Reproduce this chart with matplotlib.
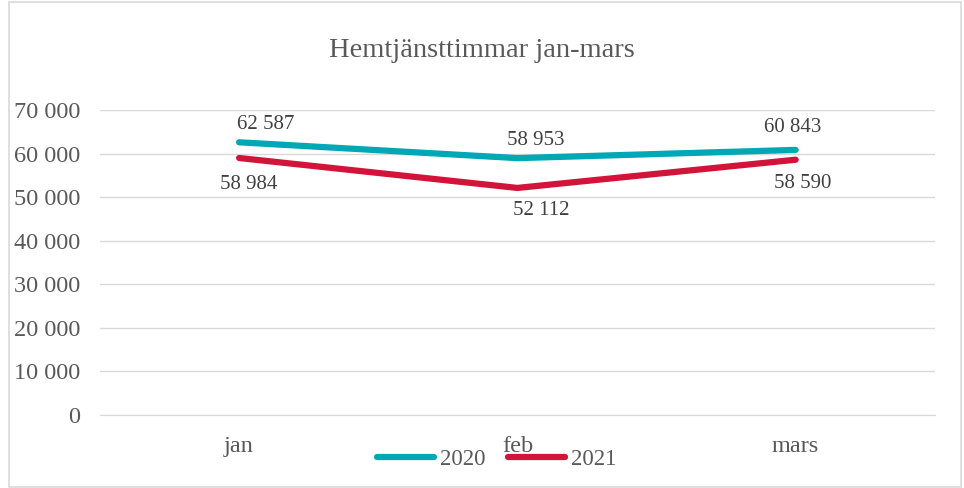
import matplotlib.pyplot as plt
from matplotlib.patches import Rectangle
from matplotlib.ticker import FuncFormatter

months = ['jan', 'feb', 'mars']
hours_2020 = [62587, 58953, 60843]
hours_2021 = [58984, 52112, 58590]

plt.rcParams['font.family'] = ['Liberation Serif', 'DejaVu Serif']
text_color = '#595959'
teal = '#00A8B5'
red = '#D2143A'

fig = plt.figure(figsize=(9.64, 4.88), dpi=100)
ax = fig.add_axes([0.1037, 0.1496, 0.866, 0.625])

x = range(len(months))
ax.plot(x, hours_2020, color=teal, linewidth=4.5, solid_capstyle='round', label='2020')
ax.plot(x, hours_2021, color=red, linewidth=4.5, solid_capstyle='round', label='2021')

def fmt(v):
    return f'{int(v):,}'.replace(',', ' ')

# data labels, offsets in points
offs_2020 = [(19, 13), (13, 13), (-2, 16)]
offs_2021 = [(7, -19), (17, -16), (5, -17)]
for i, v in enumerate(hours_2020):
    ax.annotate(fmt(v), (i, v), xytext=offs_2020[i], textcoords='offset points',
                ha='center', va='center', fontsize=15, color='#404040')
for i, v in enumerate(hours_2021):
    ax.annotate(fmt(v), (i, v), xytext=offs_2021[i], textcoords='offset points',
                ha='center', va='center', fontsize=15, color='#404040')

ax.set_xlim(-0.5, 2.5)
ax.set_ylim(0, 70000)
ax.set_yticks(range(0, 70001, 10000))
ax.yaxis.set_major_formatter(FuncFormatter(lambda v, p: fmt(v)))
ax.set_xticks(list(x))
ax.set_xticklabels(months)
ax.grid(axis='y', color='#D9D9D9', linewidth=1)
ax.set_axisbelow(True)
for s in ['top', 'right', 'left']:
    ax.spines[s].set_visible(False)
ax.spines['bottom'].set_color('#D9D9D9')
ax.tick_params(axis='both', length=0, labelsize=17.5, labelcolor=text_color)
ax.tick_params(axis='y', pad=14)
ax.tick_params(axis='x', pad=15)

fig.text(0.5, 0.896, 'Hemtjänsttimmar jan-mars', ha='center', va='center',
         fontsize=20.5, color=text_color)

leg = fig.legend(loc='center', bbox_to_anchor=(0.515, 0.058), ncol=2, frameon=False,
                 fontsize=16.5, handlelength=2.5, handletextpad=0.25, columnspacing=1.0)
for t in leg.get_texts():
    t.set_color(text_color)

fig.patches.append(Rectangle((0.009, 0.002), 0.988, 0.994, transform=fig.transFigure,
                             fill=False, edgecolor='#D9D9D9', linewidth=1.2))

fig.savefig('out.png', dpi=100)
